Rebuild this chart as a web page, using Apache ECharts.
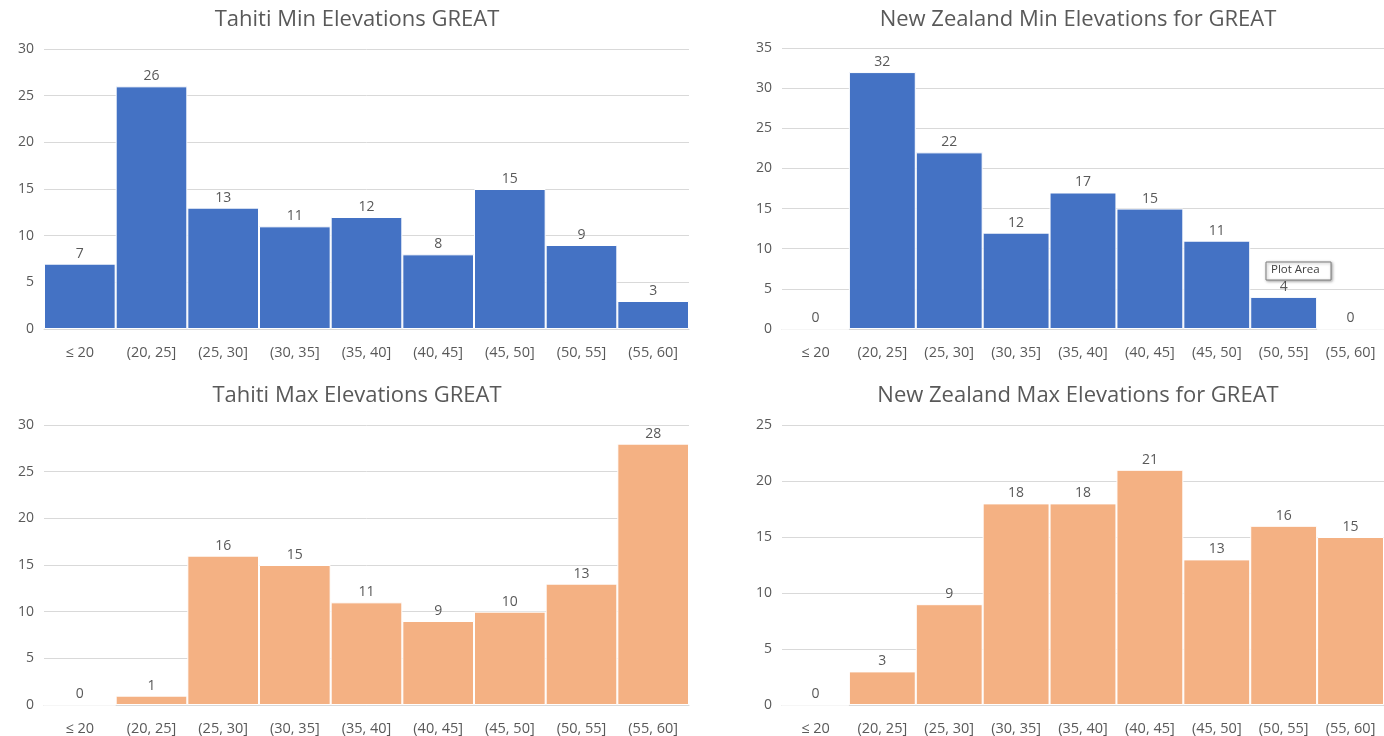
<!DOCTYPE html>
<html>
<head>
<meta charset="utf-8">
<script src="https://cdn.jsdelivr.net/npm/echarts@6/dist/echarts.min.js"></script>
<style>
  html, body { margin: 0; padding: 0; background: #fff; }
  #chart { width: 1384px; height: 736px; }
</style>
</head>
<body>
<div id="chart"></div>
<script>
// Elevation bins shared by all four histograms
const categories = ['≤ 20', '(20, 25]', '(25, 30]', '(30, 35]', '(35, 40]', '(40, 45]', '(45, 50]', '(50, 55]', '(55, 60]'];

// Counts per bin
const tahitiMin = [7, 26, 13, 11, 12, 8, 15, 9, 3];
const nzMin = [0, 32, 22, 12, 17, 15, 11, 4, 0];
const tahitiMax = [0, 1, 16, 15, 11, 9, 10, 13, 28];
const nzMax = [0, 3, 9, 18, 18, 21, 13, 16, 15];

// Panel titles and y-axis ranges
const titles = [
  'Tahiti Min Elevations GREAT',
  'New Zealand Min Elevations for GREAT',
  'Tahiti Max Elevations GREAT',
  'New Zealand Max Elevations for GREAT'
];
const yMax = [30, 35, 30, 25];

const BLUE = '#4472C4';
const ORANGE = '#F4B183';
const TEXT = '#595959';
const GRID = '#D9D9D9';
const FONT = '"Open Sans", "Noto Sans", sans-serif';

const panels = [
  { data: tahitiMin, color: BLUE, grid: { left: 44, width: 645, top: 49, height: 280 }, titleX: 352, titleY: 4 },
  { data: nzMin, color: BLUE, grid: { left: 782, width: 608, top: 48, height: 281 }, titleX: 1073, titleY: 4 },
  { data: tahitiMax, color: ORANGE, grid: { left: 44, width: 645, top: 425, height: 280 }, titleX: 352, titleY: 380 },
  { data: nzMax, color: ORANGE, grid: { left: 782, width: 608, top: 425, height: 280 }, titleX: 1073, titleY: 380 }
];

const option = {
  animation: false,
  backgroundColor: '#fff',
  textStyle: { fontFamily: FONT },
  title: panels.map((p, i) => ({
    text: titles[i],
    left: p.titleX,
    top: p.titleY,
    textAlign: 'center',
    textStyle: { color: TEXT, fontSize: 22, fontWeight: 'normal', fontFamily: FONT }
  })),
  grid: panels.map(p => Object.assign({ containLabel: false }, p.grid)),
  xAxis: panels.map((p, i) => ({
    type: 'category',
    gridIndex: i,
    data: categories,
    axisLine: { show: true, lineStyle: { color: GRID, width: 1 } },
    axisTick: { show: false },
    axisLabel: { color: TEXT, fontSize: 14.5, margin: 16, interval: 0, fontFamily: FONT }
  })),
  yAxis: panels.map((p, i) => ({
    type: 'value',
    gridIndex: i,
    min: 0,
    max: yMax[i],
    interval: 5,
    axisLine: { show: false },
    axisTick: { show: false },
    splitLine: { lineStyle: { color: GRID, width: 1 } },
    axisLabel: { color: TEXT, fontSize: 14, margin: 10, fontFamily: FONT }
  })),
  series: panels.map((p, i) => ({
    type: 'bar',
    xAxisIndex: i,
    yAxisIndex: i,
    data: p.data,
    barCategoryGap: '0%',
    itemStyle: { color: p.color, borderColor: '#fff', borderWidth: 1 },
    label: { show: true, position: 'top', distance: 3, color: TEXT, fontSize: 14, fontFamily: FONT }
  })),
  graphic: [
    // Hover hint box shown over the New Zealand min plot
    {
      type: 'rect',
      shape: { x: 1266, y: 262, width: 65, height: 18 },
      style: { fill: '#fff', stroke: '#7f7f7f', lineWidth: 1, shadowBlur: 3, shadowColor: 'rgba(0,0,0,0.35)', shadowOffsetX: 1, shadowOffsetY: 1 },
      z: 100
    },
    {
      type: 'text',
      left: 1271,
      top: 264,
      style: { text: 'Plot Area', fill: '#404040', font: '11.5px ' + FONT },
      z: 101
    }
  ]
};

const chart = echarts.init(document.getElementById('chart'), null, { renderer: 'canvas' });
chart.setOption(option);
</script>
</body>
</html>
